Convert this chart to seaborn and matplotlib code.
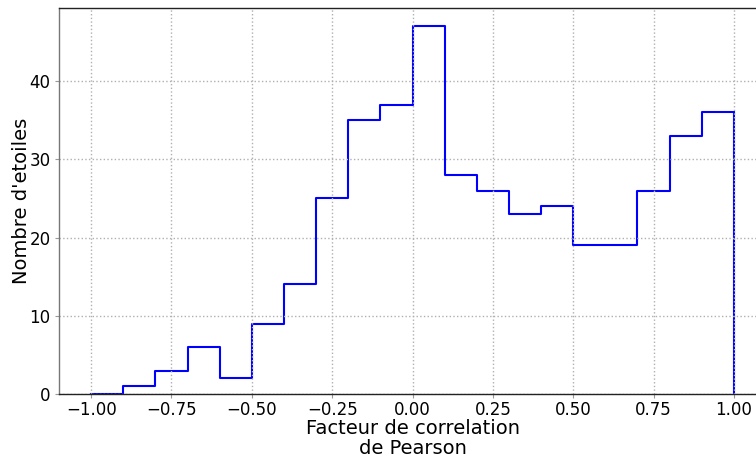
import pandas as pd
import matplotlib
matplotlib.use("Agg")
import matplotlib.pyplot as plt
import seaborn as sns

# Histogram of Pearson correlation factors (bin width 0.1 from -1 to 1)
bin_edges = [round(-1.0 + 0.1 * i, 2) for i in range(21)]
counts = [0, 1, 3, 6, 2, 9, 14, 25, 35, 37,
          47, 28, 26, 23, 24, 19, 19, 26, 33, 36]
x_ticks = [-1.00, -0.75, -0.50, -0.25, 0.00, 0.25, 0.50, 0.75, 1.00]
y_ticks = [0, 10, 20, 30, 40]

centers = [(a + b) / 2 for a, b in zip(bin_edges[:-1], bin_edges[1:])]
df = pd.DataFrame({"r": centers, "n": counts})

plt.rcParams["font.family"] = ["DejaVu Sans"]
plt.rcParams["text.color"] = "black"
plt.rcParams["axes.labelcolor"] = "black"

fig = plt.figure(figsize=(7.56, 4.57), dpi=100)
ax = fig.add_axes([59 / 756, 63 / 457, 707 / 756, 386 / 457])

sns.histplot(data=df, x="r", weights="n", bins=bin_edges, element="step",
             fill=False, color="#0000ff", linewidth=1.5, ax=ax)
# close the outline at the last bin edge
ax.vlines(bin_edges[-1], 0, counts[-1], color="#0000ff", linewidth=1.5, zorder=1)
for line in ax.lines:
    line.set_zorder(1)

ax.set_xlim(-1.1, 1.1)
ax.set_ylim(0, max(counts) * 1.05)
ax.set_xticks(x_ticks)
ax.set_xticklabels([f"{t:.2f}".replace("-", "\u2212") for t in x_ticks])
ax.set_yticks(y_ticks)
ax.tick_params(axis="both", labelsize=12, length=3, width=0.8,
               color="#999999", labelcolor="black")
ax.tick_params(axis="x", pad=2)
ax.tick_params(axis="y", pad=3)
ax.grid(True, linestyle=":", color="#b0b0b0", linewidth=1.0)
ax.set_axisbelow("line")

for s in ax.spines.values():
    s.set_color("#222222")
    s.set_linewidth(1.0)
ax.spines["left"].set_color("#777777")

ax.set_xlabel("Facteur de correlation\nde Pearson", fontsize=14,
              linespacing=1.05, labelpad=0)
ax.set_ylabel("Nombre d'etoiles", fontsize=14, labelpad=-1)

fig.savefig("out.png", dpi=100)
